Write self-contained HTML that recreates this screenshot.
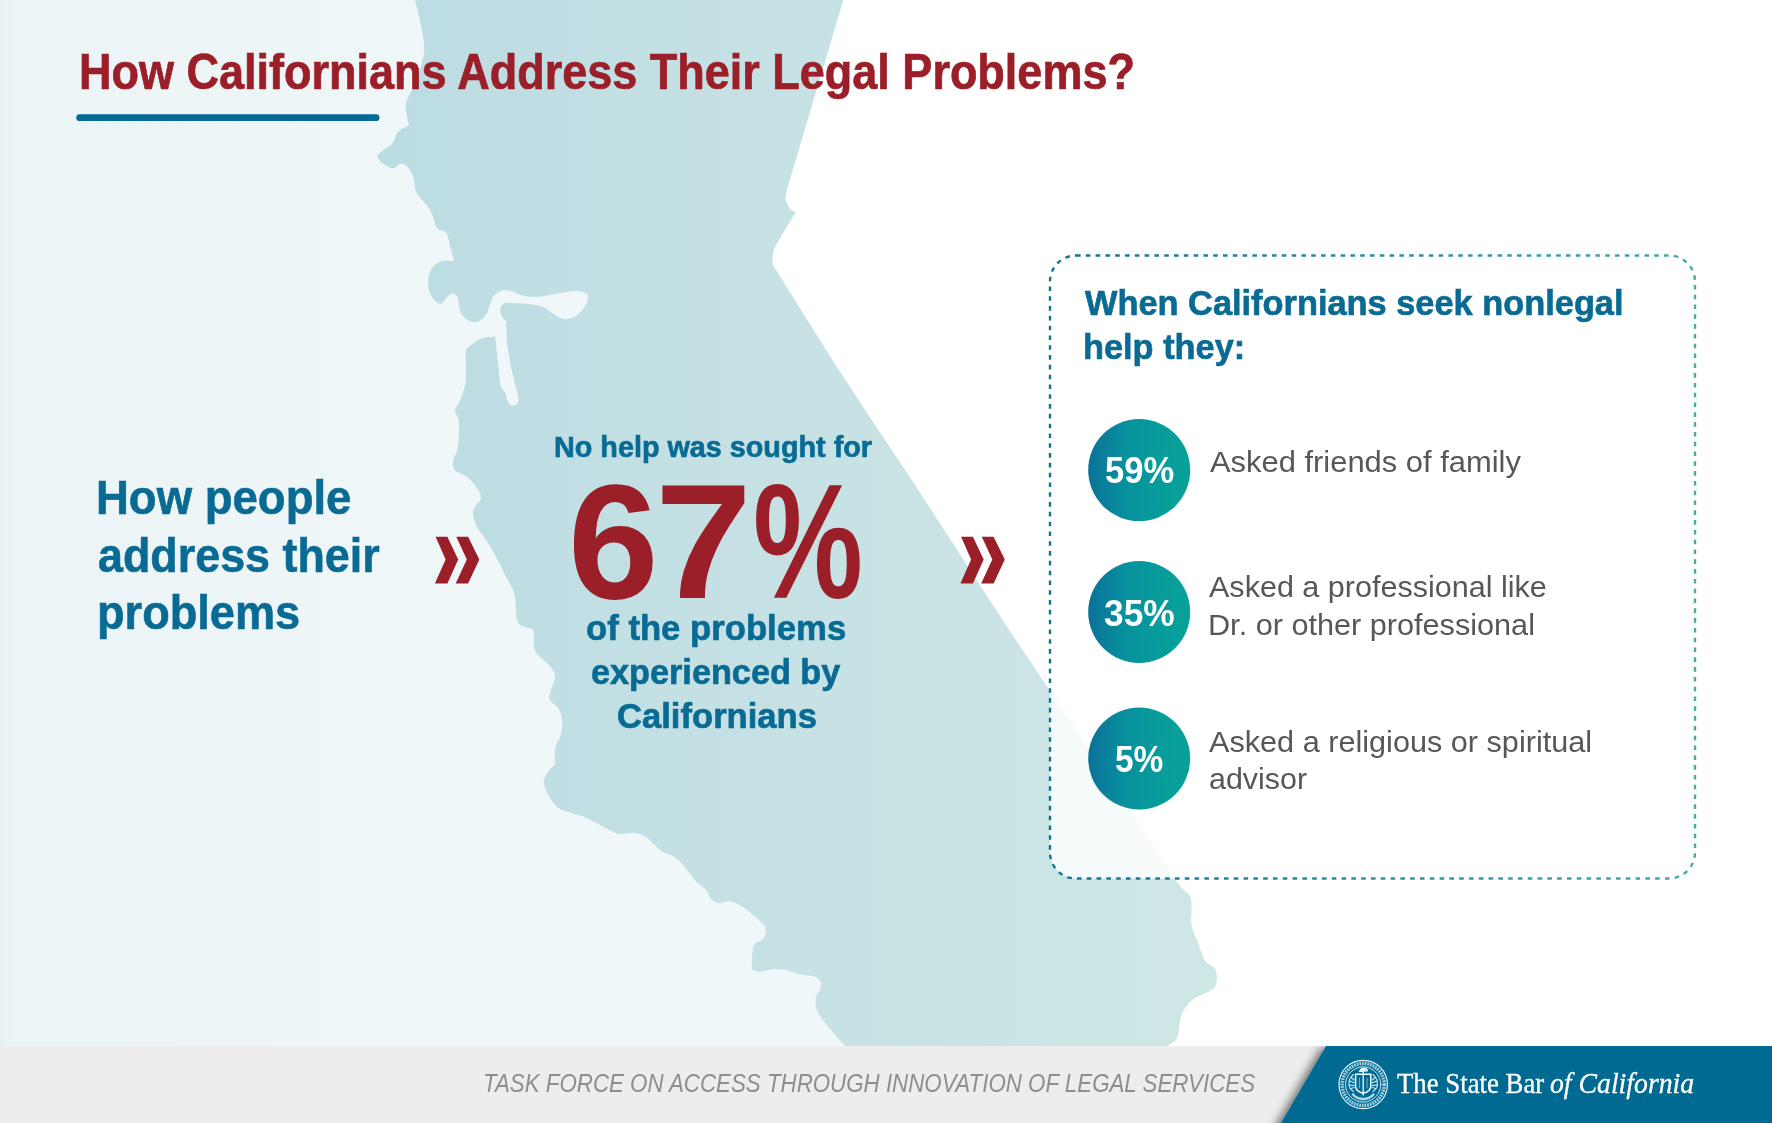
<!DOCTYPE html>
<html lang="en">
<head>
<meta charset="utf-8">
<title>How Californians Address Their Legal Problems?</title>
<style>
html,body{margin:0;padding:0;}
body{width:1772px;height:1123px;position:relative;overflow:hidden;background:#fff;font-family:"Liberation Sans",Arial,sans-serif;}
#bg{position:absolute;left:0;top:0;width:1772px;height:1123px;display:block;}
.t{position:absolute;white-space:nowrap;line-height:1;margin:0;padding:0;}
.t span{display:inline-block;transform-origin:0 50%;white-space:nowrap;}
.b{font-weight:700;}
.red{color:#9b1f28;}
.blue{color:#096b93;}
.white{color:#fff;}
.grey{color:#555759;}
.lgrey{color:#8e8e8e;}
.it{font-style:italic;}
.serif{font-family:"Liberation Serif","DejaVu Serif",serif;}
.sit{font-style:italic;}
.st4{-webkit-text-stroke:0.65px currentColor;}
.st5{-webkit-text-stroke:0.6px currentColor;}
.st6{-webkit-text-stroke:0.7px currentColor;}
.st3{-webkit-text-stroke:0.3px currentColor;}
</style>
</head>
<body>
<svg id="bg" width="1772" height="1123" viewBox="0 0 1772 1123">
<defs>
<linearGradient id="sea" gradientUnits="userSpaceOnUse" x1="0" y1="0" x2="460" y2="0">
<stop offset="0" stop-color="#e8f1f5"/><stop offset="0.03" stop-color="#ebf4f6"/><stop offset="0.6" stop-color="#edf5f7"/><stop offset="1" stop-color="#f0f7f8"/>
</linearGradient>
<linearGradient id="land" gradientUnits="userSpaceOnUse" x1="380" y1="0" x2="1220" y2="0">
<stop offset="0" stop-color="#bbdce3"/><stop offset="0.45" stop-color="#c6e1e4"/><stop offset="1" stop-color="#cee7e6"/>
</linearGradient>
<linearGradient id="cg" gradientUnits="userSpaceOnUse" x1="1088" y1="0" x2="1190" y2="0">
<stop offset="0" stop-color="#0a7199"/><stop offset="0.35" stop-color="#08909d"/><stop offset="0.7" stop-color="#079c9b"/><stop offset="1" stop-color="#08a298"/>
</linearGradient>
<linearGradient id="dash" gradientUnits="userSpaceOnUse" x1="1050" y1="0" x2="1695" y2="0">
<stop offset="0" stop-color="#0f7493"/><stop offset="1" stop-color="#4aaba0"/>
</linearGradient>
<filter id="sh" x="-20%" y="-20%" width="140%" height="160%">
<feGaussianBlur in="SourceAlpha" stdDeviation="5"/><feOffset dx="-5" dy="2"/><feComponentTransfer><feFuncA type="linear" slope="0.55"/></feComponentTransfer>
<feMerge><feMergeNode/><feMergeNode in="SourceGraphic"/></feMerge>
</filter>
<clipPath id="fc"><rect x="0" y="1046" width="1772" height="77"/></clipPath>
</defs>
<polygon points="0,0 650,0 650,300 1000,1050 0,1050" fill="url(#sea)"/>
<path d="M415.0,-5.0L415.0,-5.0C415.0,-4.2 413.8,-5.8 415.0,0.0C416.2,5.8 420.5,21.2 422.0,30.0C423.5,38.8 424.7,45.5 424.0,53.0C423.3,60.5 419.9,69.0 418.0,75.0C416.1,81.0 414.4,84.3 412.4,89.0C410.4,93.7 406.9,98.5 406.0,103.0C405.1,107.5 406.5,112.3 407.0,116.0C407.5,119.7 408.7,123.5 409.0,125.0L409.0,125.0C407.2,126.2 400.7,129.1 398.0,132.0C395.3,134.9 395.2,139.7 393.0,142.5C390.8,145.3 387.7,146.8 385.0,149.0C382.3,151.2 378.3,154.4 377.0,155.5L377.0,155.5C377.7,156.6 378.4,159.9 381.0,162.0C383.6,164.1 389.6,167.9 392.8,168.2C396.0,168.5 397.8,164.4 400.0,164.0C402.2,163.6 403.8,163.5 406.0,165.5C408.2,167.5 411.2,171.4 413.0,176.0C414.8,180.6 414.2,187.6 416.8,192.8C419.4,198.0 425.7,203.0 428.4,207.0C431.1,211.0 431.5,213.4 433.0,217.0C434.5,220.6 435.1,225.8 437.3,228.4C439.5,231.0 444.1,229.9 446.2,232.8C448.3,235.7 448.7,241.2 450.0,246.0C451.3,250.8 453.5,258.8 454.2,261.3L454.2,261.3C452.0,261.3 444.5,260.3 440.9,261.3C437.3,262.3 434.6,264.7 432.5,267.5C430.4,270.3 429.0,274.2 428.4,278.0C427.8,281.8 428.1,286.4 429.0,290.0C429.9,293.6 431.7,297.3 433.7,299.6C435.7,301.9 438.8,304.3 440.9,304.0C443.0,303.7 444.3,299.7 446.2,297.9C448.1,296.1 450.5,293.4 452.4,293.4C454.3,293.4 456.4,294.8 457.8,297.9C459.2,301.0 458.9,308.3 460.5,312.0C462.1,315.7 464.9,318.3 467.6,320.0C470.3,321.7 473.5,322.7 476.5,322.0C479.5,321.3 483.2,318.4 485.4,315.7C487.6,313.0 488.2,309.1 489.5,306.0C490.8,302.9 491.0,299.6 493.0,297.0C495.0,294.4 498.5,291.8 501.4,290.7C504.3,289.6 507.0,290.0 510.3,290.7C513.6,291.4 516.5,293.9 521.0,295.0C525.5,296.1 531.4,297.2 537.0,297.0C542.6,296.8 549.4,294.9 554.9,294.0C560.4,293.1 565.8,291.9 570.0,291.5C574.2,291.1 577.0,290.7 580.0,291.3C583.0,291.9 586.6,293.2 587.8,295.0C589.0,296.8 587.7,299.7 587.0,302.0C586.3,304.3 584.8,306.6 583.4,308.6C582.0,310.6 580.3,312.5 578.5,314.0C576.7,315.5 575.2,316.7 572.7,317.5C570.2,318.3 566.8,319.4 563.8,319.0C560.8,318.6 558.5,316.8 554.9,314.8C551.3,312.8 546.9,308.6 542.4,306.8C537.9,305.0 532.6,304.6 528.0,304.0C523.4,303.4 518.8,303.5 515.0,303.3C511.2,303.1 507.4,302.1 505.0,303.0C502.6,303.9 501.0,306.3 500.5,308.6C500.0,310.9 501.1,314.5 502.0,316.6C502.9,318.8 505.3,320.7 506.0,321.5L506.0,321.5C506.1,323.6 506.4,329.8 506.6,334.0C506.9,338.2 506.6,340.8 507.5,347.0C508.4,353.2 510.7,364.8 512.0,371.3C513.3,377.8 514.4,381.6 515.5,386.0C516.6,390.4 518.2,395.0 518.4,398.0C518.6,401.0 517.8,402.9 516.6,404.2C515.4,405.4 512.7,405.9 511.2,405.5C509.7,405.1 508.7,403.6 507.7,401.5C506.7,399.4 506.2,395.3 505.0,392.6C503.8,389.9 501.5,389.1 500.5,385.5C499.5,381.9 499.4,376.7 498.8,371.3C498.2,365.9 497.6,359.2 497.0,353.4C496.4,347.6 495.5,339.3 495.2,336.5L495.2,336.5C493.0,336.8 486.2,336.5 481.8,338.3C477.4,340.1 471.2,344.7 468.5,347.2C465.8,349.7 466.2,347.9 465.8,353.4C465.4,358.9 466.3,373.5 465.8,380.0C465.3,386.5 464.2,388.7 463.0,392.6C461.8,396.5 460.0,400.3 458.7,403.3C457.4,406.3 455.0,407.6 455.0,410.5C455.0,413.4 458.1,416.0 458.7,421.0C459.3,426.0 459.0,435.6 458.7,440.7C458.4,445.8 457.8,448.0 456.9,451.4C455.9,454.8 453.3,457.8 453.0,461.0C452.7,464.2 452.9,467.9 455.2,470.5C457.4,473.1 462.9,473.7 466.5,476.5C470.1,479.3 474.2,483.8 476.6,487.4C479.0,491.0 481.3,494.7 481.0,498.0C480.7,501.3 476.1,504.3 474.8,507.0C473.5,509.7 472.7,510.7 473.0,514.0C473.3,517.3 474.5,522.4 476.6,526.6C478.7,530.8 482.2,533.9 485.5,539.0C488.8,544.1 492.6,550.5 496.2,557.0C499.8,563.5 503.9,572.4 506.9,578.3C509.9,584.2 512.5,587.8 514.0,592.5C515.5,597.2 515.3,602.3 515.8,606.8C516.3,611.3 515.9,616.4 516.8,619.6C517.7,622.8 519.0,624.3 521.3,625.8C523.6,627.3 529.0,628.0 530.5,628.5L530.5,628.5C531.0,628.9 533.0,629.2 533.5,631.0C534.0,632.8 533.4,635.8 533.7,639.2C534.0,642.7 532.8,647.2 535.5,651.7C538.2,656.2 546.5,661.9 549.8,666.0C553.1,670.1 555.0,672.5 555.1,676.6C555.2,680.8 551.6,687.0 550.7,690.9C549.8,694.8 548.5,696.8 549.8,699.8C551.1,702.8 556.6,705.2 558.7,708.7C560.8,712.2 561.9,716.7 562.2,721.1C562.5,725.5 561.7,730.9 560.5,735.4C559.3,739.9 556.0,743.1 555.1,747.9C554.2,752.7 555.1,761.3 555.1,764.0L555.1,764.0C553.8,765.5 549.1,770.2 547.2,773.2C545.3,776.2 543.5,778.5 543.6,782.0C543.8,785.5 545.9,790.3 548.1,794.5C550.3,798.7 553.4,804.0 557.0,807.0C560.6,810.0 565.0,810.8 569.5,812.4C574.0,814.0 578.7,814.7 583.7,816.8C588.8,818.9 594.1,822.0 599.8,824.8C605.4,827.6 612.9,832.3 617.6,833.7C622.3,835.1 624.4,833.0 628.0,833.0C631.6,833.0 635.7,832.8 639.0,833.7C642.3,834.6 644.0,835.2 647.9,838.2C651.8,841.2 657.6,848.4 662.1,851.5C666.6,854.6 670.7,854.2 674.6,856.9C678.5,859.6 681.7,863.5 685.3,867.6C688.9,871.8 692.4,877.9 696.0,881.8C699.6,885.6 704.3,887.9 706.7,890.7C709.1,893.5 708.7,896.4 710.5,898.5C712.3,900.6 715.2,902.6 717.6,903.2C720.0,903.8 722.5,902.2 725.0,902.0C727.5,901.8 729.2,900.7 732.5,901.8C735.8,902.9 740.1,905.0 745.0,908.5C749.9,912.0 758.5,919.4 762.0,923.0C765.5,926.6 765.8,927.4 766.0,930.0C766.2,932.6 764.9,936.4 763.0,938.8C761.1,941.1 756.2,942.0 754.5,944.1C752.8,946.2 753.0,948.6 752.6,951.3C752.2,953.9 752.0,957.0 751.9,960.0C751.8,963.0 751.7,967.5 751.7,969.0L751.7,969.0C752.9,969.5 756.1,971.5 758.8,971.7C761.5,971.9 764.7,970.5 768.0,970.0C771.3,969.5 774.9,968.9 778.4,969.0C781.9,969.1 785.4,970.0 789.0,970.9C792.6,971.8 795.6,973.5 799.8,974.4C804.0,975.3 810.6,975.0 814.0,976.2C817.4,977.4 819.2,979.4 820.3,981.5C821.3,983.6 821.0,986.0 820.3,988.7C819.5,991.4 816.4,994.1 815.8,997.6C815.2,1001.1 815.2,1005.9 816.7,1010.0C818.2,1014.1 821.6,1018.3 824.7,1022.5C827.8,1026.7 832.0,1031.1 835.4,1035.0C838.8,1038.9 841.1,1041.2 845.2,1045.7C849.3,1050.2 857.5,1059.3 860.0,1062.0L1150.0,1062.0C1152.9,1059.3 1163.5,1049.4 1167.6,1046.0C1171.7,1042.6 1172.9,1043.6 1174.7,1041.5C1176.5,1039.4 1177.4,1036.9 1178.3,1033.5C1179.2,1030.1 1179.1,1024.9 1180.0,1021.0C1180.9,1017.1 1181.5,1013.8 1183.6,1010.3C1185.7,1006.8 1188.6,1002.7 1192.5,999.7C1196.4,996.7 1203.1,994.6 1206.8,992.5C1210.5,990.4 1213.1,989.9 1214.8,987.2C1216.5,984.5 1217.1,979.8 1216.9,976.5C1216.8,973.2 1215.9,970.3 1213.9,967.6C1211.9,964.9 1207.7,964.7 1205.0,960.5C1202.3,956.3 1200.1,948.6 1197.9,942.6C1195.7,936.6 1192.6,930.7 1191.6,924.8C1190.5,918.9 1191.9,911.8 1191.6,907.0C1191.3,902.2 1191.5,899.4 1189.9,896.3C1188.3,893.2 1184.3,891.3 1181.8,888.3C1179.3,885.3 1175.9,880.1 1174.7,878.5L1174.7,878.5C1160.4,856.9 1117.7,792.1 1089.0,749.0C1060.3,705.9 1030.1,661.5 1002.7,620.0C975.3,578.5 952.1,541.7 924.8,500.0C897.5,458.3 864.4,409.3 839.0,370.0C813.6,330.7 783.5,281.8 772.4,264.1L772.4,264.1C772.6,261.7 772.2,254.9 773.9,249.8C775.6,244.7 779.1,240.1 782.8,233.7C786.5,227.3 794.0,215.2 796.2,211.5L796.2,211.5C795.5,211.3 793.3,211.9 791.8,210.6C790.3,209.2 788.2,206.4 787.3,203.4C786.4,200.4 784.5,201.7 786.4,192.8C788.3,183.9 796.8,157.1 798.9,150.0L798.9,150.0C806.3,125.0 835.7,25.8 843.4,0.0C851.1,-25.8 844.7,-4.2 845.0,-5.0Z" fill="url(#land)"/>
<rect x="1050" y="255.5" width="645" height="623" rx="26" ry="26" fill="#ffffff" fill-opacity="0.81" stroke="url(#dash)" stroke-width="2.4" stroke-dasharray="4.6 5.2"/>
<circle cx="1139.2" cy="470.1" r="51" fill="url(#cg)"/><circle cx="1139.2" cy="612.0" r="51" fill="url(#cg)"/><circle cx="1139.2" cy="758.5" r="51" fill="url(#cg)"/>
<path d="M435.6,536.8L447.4,536.8L458.2,559.6L447.4,583.6L434.9,583.6L445.6,559.6Z M456.3,536.8L468.1,536.8L479.3,559.6L468.1,583.6L455.7,583.6L466.8,559.6Z" fill="#9b1f28"/>
<path d="M435.6,536.8L447.4,536.8L458.2,559.6L447.4,583.6L434.9,583.6L445.6,559.6Z M456.3,536.8L468.1,536.8L479.3,559.6L468.1,583.6L455.7,583.6L466.8,559.6Z" fill="#9b1f28" transform="translate(525.5,0)"/>
<rect x="76.3" y="114.3" width="303.2" height="6.8" rx="3.4" fill="#056b94"/>
<rect x="0" y="1046" width="1772" height="77" fill="#ededed"/>
<g clip-path="url(#fc)"><polygon points="1326,1046 1772,1046 1772,1130 1277,1130" fill="#006b92" filter="url(#sh)"/></g>
<g id="seal" fill="none" stroke="#cdeaf4" stroke-linecap="round">
<circle cx="1363.2" cy="1084.5" r="24.2" stroke-width="1.2" stroke="#e4f4fa"/>
<circle cx="1363.2" cy="1084.5" r="21" stroke-width="3.4" stroke-dasharray="1.7 1.0" stroke-opacity="0.85" stroke-linecap="butt"/>
<circle cx="1363.2" cy="1084.5" r="17.6" stroke-width="0.9" stroke="#e4f4fa"/>
<path d="M1355.600,1074.300h15.200v11.500c0,4.200-3.300,6.500-7.600,7.400c-4.300,-0.900-7.600,-3.200-7.600,-7.400Z" stroke-width="1.5" stroke="#f2fbfe"/>
<path d="M1363.200,1071.500v23.500" stroke-width="1.300" stroke="#f2fbfe"/>
<path d="M1359.400,1078v10M1367,1078v10" stroke-width="0.8" stroke-opacity="0.700"/>
<path d="M1359.300,1071.200c1,-2.800 3.500,-3.600 5.500,-2.800c1.500,-0.300 2.600,0.600 2.800,2.200z" stroke-width="1" fill="#f2fbfe" stroke="#f2fbfe"/>
<path d="M1353.500,1074.500c-3.200,2.600-5,6.500-4.500,10.500c0.300,3 2,5 4.500,6.500M1351.200,1077.500l3,2.500M1349.800,1081l4.300,1.800M1349.600,1085l4.500,0.600M1350.800,1088.500l3.500,-1" stroke-width="1.100"/>
<path d="M1372.900,1074.500c3.200,2.600 5,6.500 4.500,10.500c-0.300,3-2,5-4.500,6.500M1375.200,1077.500l-3,2.500M1376.600,1081l-4.300,1.800M1376.800,1085l-4.500,0.600M1375.600,1088.500l-3.500,-1" stroke-width="1.100"/>
<path d="M1353,1094.500c2.500,3 6,4.600 10.200,4.600c4.200,0 7.700,-1.600 10.200,-4.600" stroke-width="2.600" stroke-opacity="0.850"/>
</g>
</svg>
<div class="t b red st6" id="title" style="left:78.76px;top:47.17px;font-size:49.30px"><span style="transform:scaleX(0.9127)">How Californians Address Their Legal Problems?</span></div>
<div class="t b blue st5" id="l1" style="left:96.45px;top:474.35px;font-size:47.90px"><span style="transform:scaleX(0.9504)">How people</span></div>
<div class="t b blue st5" id="l2" style="left:97.76px;top:532.25px;font-size:47.90px"><span style="transform:scaleX(0.9367)">address their</span></div>
<div class="t b blue st5" id="l3" style="left:96.67px;top:589.05px;font-size:47.90px"><span style="transform:scaleX(0.9427)">problems</span></div>
<div class="t b blue st4" id="m0" style="left:553.82px;top:433.05px;font-size:29.00px"><span style="transform:scaleX(0.9918)">No help was sought for</span></div>
<div id="big" class="b red" style="position:absolute;left:0;top:0;font-size:163.00px;line-height:1"><span class="t" id="big6" style="left:568.11px;top:459.92px"><span style="transform:scaleX(0.9987)">6</span></span><span class="t" id="big7" style="left:654.51px;top:459.92px"><span style="transform:scaleX(1.0697)">7</span></span><span class="t" id="bigp" style="left:752.87px;top:459.92px"><span style="transform:scaleX(0.7584)">%</span></span></div>
<div class="t b blue st4" id="m1" style="left:586.11px;top:610.09px;font-size:35.10px"><span style="transform:scaleX(0.9889)">of the problems</span></div>
<div class="t b blue st4" id="m2" style="left:590.82px;top:654.19px;font-size:35.10px"><span style="transform:scaleX(0.9761)">experienced by</span></div>
<div class="t b blue st4" id="m3" style="left:616.61px;top:698.49px;font-size:35.10px"><span style="transform:scaleX(0.9866)">Californians</span></div>
<div class="t b blue st4" id="r1" style="left:1085.20px;top:285.56px;font-size:34.90px"><span style="transform:scaleX(0.9850)">When Californians seek nonlegal</span></div>
<div class="t b blue st4" id="r2" style="left:1083.23px;top:329.86px;font-size:34.90px"><span style="transform:scaleX(0.9844)">help they:</span></div>
<div class="t b white" id="p1" style="left:1104.64px;top:453.43px;font-size:36.00px"><span style="transform:scaleX(0.9600)">59%</span></div>
<div class="t b white" id="p2" style="left:1103.82px;top:596.03px;font-size:36.00px"><span style="transform:scaleX(0.9814)">35%</span></div>
<div class="t b white" id="p3" style="left:1115.37px;top:742.33px;font-size:36.00px"><span style="transform:scaleX(0.9300)">5%</span></div>
<div class="t grey" id="a1" style="left:1209.80px;top:448.21px;font-size:28.70px"><span style="transform:scaleX(1.0771)">Asked friends of family</span></div>
<div class="t grey" id="a2" style="left:1209.30px;top:573.11px;font-size:28.70px"><span style="transform:scaleX(1.0646)">Asked a professional like</span></div>
<div class="t grey" id="a3" style="left:1208.36px;top:611.01px;font-size:28.70px"><span style="transform:scaleX(1.0679)">Dr. or other professional</span></div>
<div class="t grey" id="a4" style="left:1209.30px;top:728.31px;font-size:28.70px"><span style="transform:scaleX(1.0678)">Asked a religious or spiritual</span></div>
<div class="t grey" id="a5" style="left:1209.44px;top:765.31px;font-size:28.70px"><span style="transform:scaleX(1.0604)">advisor</span></div>
<div class="t it lgrey" id="f1" style="left:482.69px;top:1070.41px;font-size:26.10px"><span style="transform:scaleX(0.8551)">TASK FORCE ON ACCESS THROUGH INNOVATION OF LEGAL SERVICES</span></div>
<div class="t serif white st3" id="s1" style="left:1397.30px;top:1068.17px;font-size:30.00px"><span style="transform:scaleX(0.8927)">The State Bar</span></div>
<div class="t serif sit white st3" id="s2" style="left:1550.08px;top:1068.17px;font-size:30.00px"><span style="transform:scaleX(0.9247)">of California</span></div>
</body>
</html>
